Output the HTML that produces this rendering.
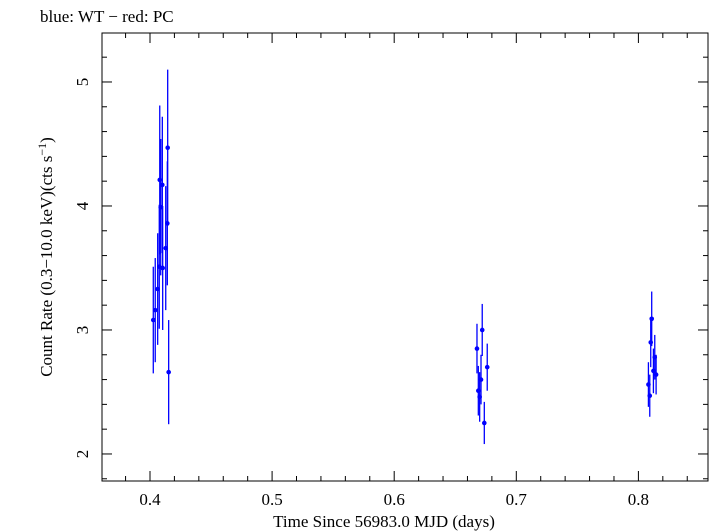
<!DOCTYPE html>
<html><head><meta charset="utf-8"><style>
body{margin:0;background:#fff;}
svg{display:block;font-family:"Liberation Serif",serif;}
</style></head><body>
<svg id="chart" width="709" height="532" viewBox="0 0 709 532">
<text x="40" y="22" font-size="17">blue: WT − red: PC</text>
<rect x="102" y="33" width="606" height="448" fill="none" stroke="#000" stroke-width="1"/>
<g id="ticks"></g><g id="marks"></g>
<text x="384" y="527" font-size="17" text-anchor="middle">Time Since 56983.0 MJD (days)</text>
<text transform="translate(52,257) rotate(-90)" font-size="17" text-anchor="middle">Count Rate (0.3−10.0 keV)(cts s<tspan dy="-6" font-size="12">−1</tspan><tspan dy="6">)</tspan></text>
</svg>
<script>
const times=[0.4027,0.4043,0.4063,0.4076,0.4080,0.4088,0.4101,0.4104,0.4129,0.4142,0.4145,0.4153,0.6678,0.6721,0.6762,0.6711,0.6689,0.6700,0.6738,0.8109,0.8101,0.8134,0.8123,0.8145,0.8082,0.8093];
const rates=[3.08,3.16,3.33,3.51,4.21,3.99,4.17,3.50,3.66,3.86,4.47,2.66,2.85,3.00,2.70,2.60,2.51,2.46,2.25,3.09,2.90,2.78,2.67,2.64,2.56,2.47];
const errors=[0.43,0.42,0.45,0.5,0.6,0.55,0.55,0.5,0.5,0.5,0.63,0.42,0.2,0.21,0.19,0.2,0.2,0.2,0.17,0.22,0.2,0.18,0.18,0.16,0.18,0.17];
const xTicks=[0.4,0.5,0.6,0.7,0.8];
const yTicks=[2,3,4,5];
const NS="http://www.w3.org/2000/svg";
const X0=102,X1=708,Y0=33,Y1=481;
const xd=[0.3607,0.857], yd=[1.782,5.395];
const sx=v=>X0+(v-xd[0])/(xd[1]-xd[0])*(X1-X0);
const sy=v=>Y1-(v-yd[0])/(yd[1]-yd[0])*(Y1-Y0);
function mk(t,a,p){const e=document.createElementNS(NS,t);for(const k in a)e.setAttribute(k,a[k]);p.appendChild(e);return e;}
const tg=document.getElementById('ticks'),mg=document.getElementById('marks');
for(let v=0.36;v<=0.86;v+=0.02){const x=sx(v);if(x<X0||x>X1)continue;const maj=Math.abs(v*10-Math.round(v*10))<1e-6;const L=maj?10:5;
const a=mk('line',{x1:x,x2:x,y1:Y1,y2:Y1-L,stroke:'#000'},tg);
const b=mk('line',{x1:x,x2:x,y1:Y0,y2:Y0+L,stroke:'#000'},tg);}
for(let v=1.8;v<=5.4;v+=0.2){const y=sy(v);if(y<Y0||y>Y1)continue;const maj=Math.abs(v-Math.round(v))<1e-6;const L=maj?10:5;
const a=mk('line',{x1:X0,x2:X0+L,y1:y,y2:y,stroke:'#000'},tg);
const b=mk('line',{x1:X1,x2:X1-L,y1:y,y2:y,stroke:'#000'},tg);}
xTicks.forEach(v=>{const t=mk('text',{x:sx(v),y:505,'font-size':17,'text-anchor':'middle'},tg);t.textContent=String(v);
});
yTicks.forEach(v=>{const t=mk('text',{transform:`translate(88,${sy(v)}) rotate(-90)`,'font-size':17,'text-anchor':'middle'},tg);t.textContent=String(v);
});
times.forEach((t,i)=>{const x=sx(t),y=sy(rates[i]);
const l=mk('line',{x1:x,x2:x,y1:sy(rates[i]+errors[i]),y2:sy(rates[i]-errors[i]),stroke:'#0000ff','stroke-width':1.3},mg);

const c=mk('circle',{cx:x,cy:y,r:2.3,fill:'#0000ff'},mg);
});
</script>
</body></html>
